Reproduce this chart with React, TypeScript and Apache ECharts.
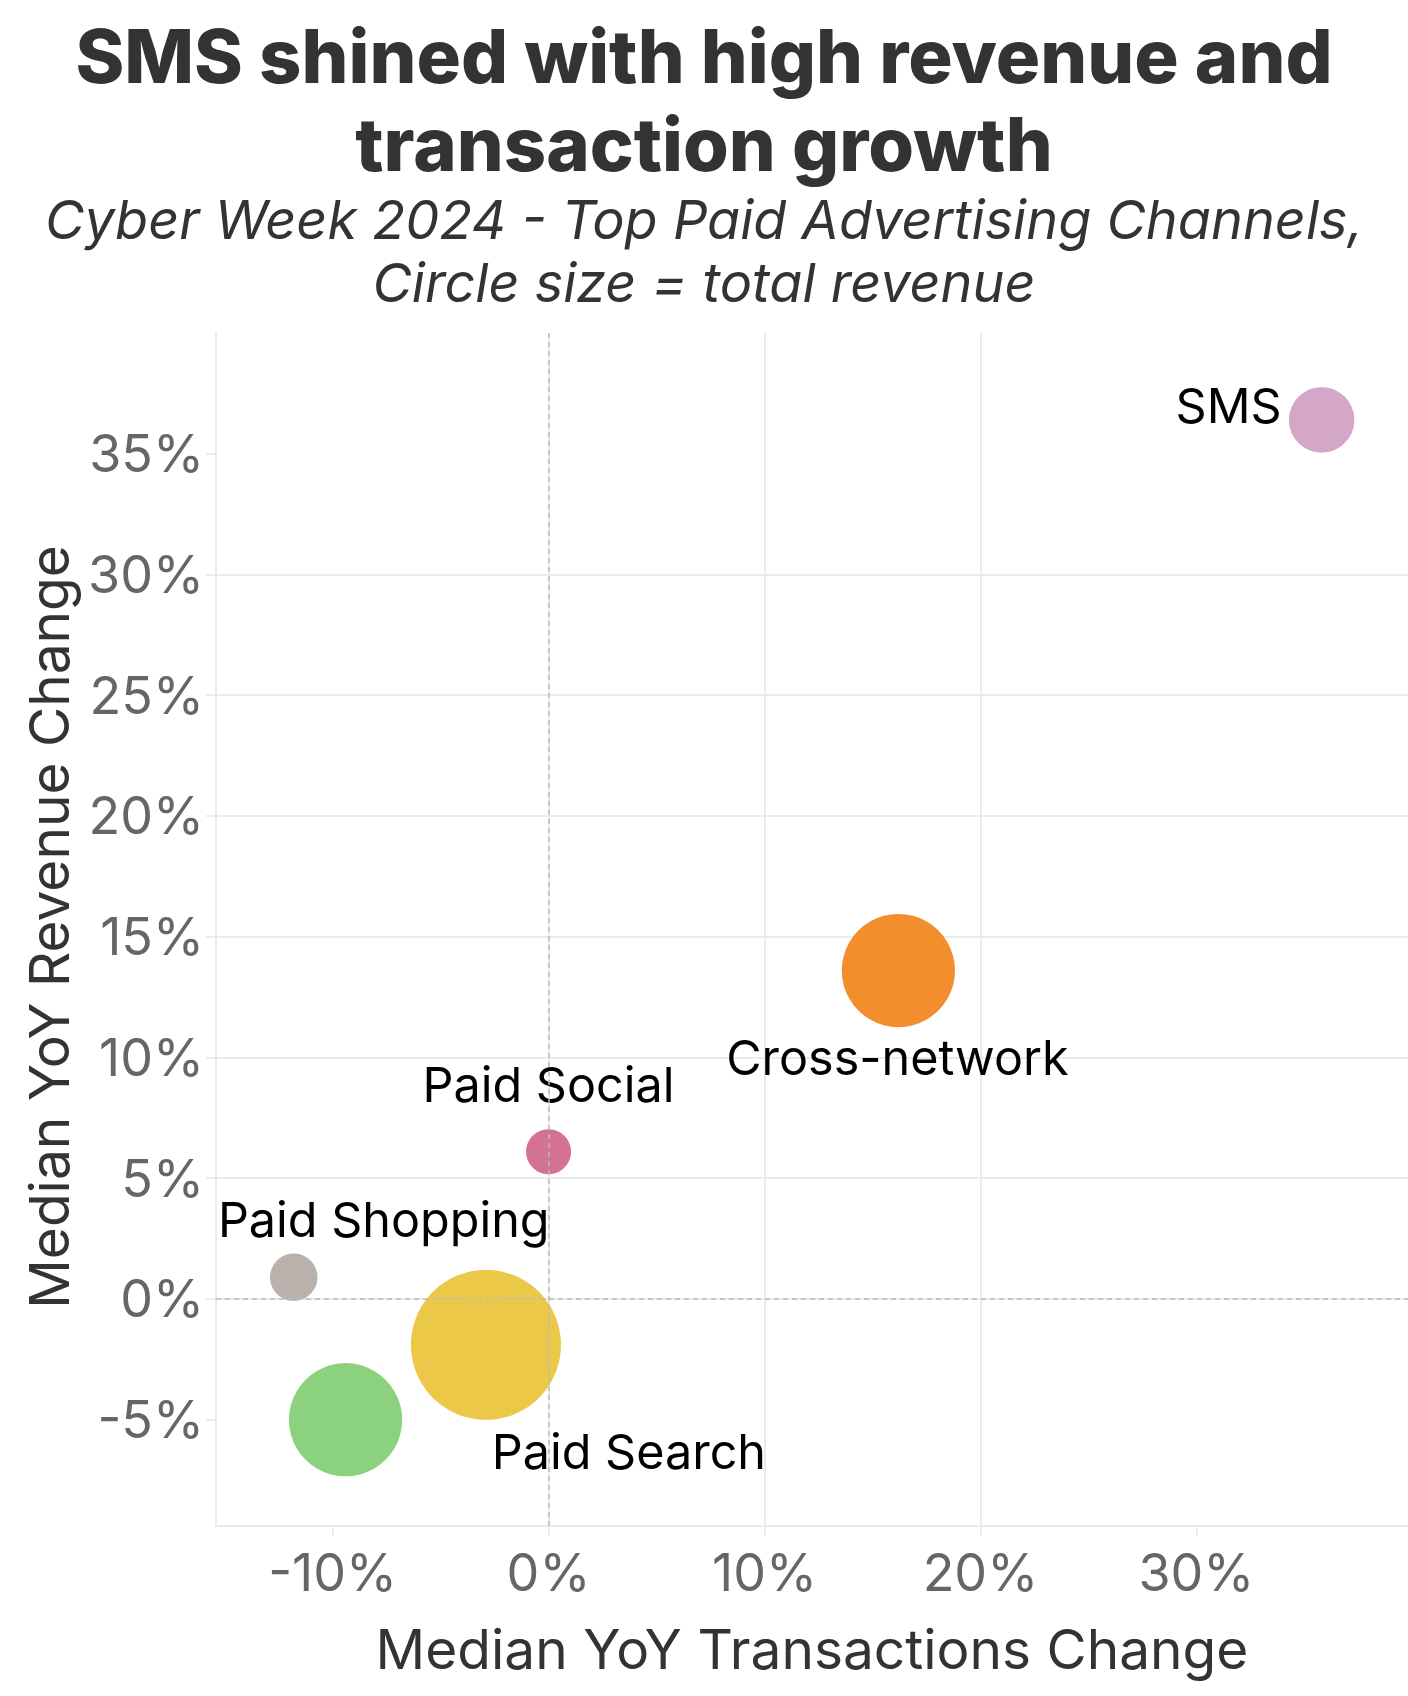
import React, { useEffect, useRef } from "react";
import * as echarts from "echarts";

// ---- data ----
const channels = ["SMS", "Cross-network", "Paid Social", "Paid Shopping", "Paid Search", "Unlabeled channel"];
const txChange = [35.8, 16.2, 0.0, -11.8, -2.9, -9.4]; // Median YoY Transactions Change (%)
const revChange = [36.4, 13.6, 6.1, 0.9, -1.9, -5.0]; // Median YoY Revenue Change (%)
const totalRevenue = [19, 57, 9, 10, 100, 57]; // relative total revenue (circle area)
const showLabel = [true, true, true, true, true, false];
const xTickValues = [-10, 0, 10, 20, 30];
const yTickValues = [-5, 0, 5, 10, 15, 20, 25, 30, 35];

const titleLines = ["SMS shined with high revenue and", "transaction growth"];
const subtitleLines = ["Cyber Week 2024 - Top Paid Advertising Channels,", "Circle size = total revenue"];
const xAxisTitle = "Median YoY Transactions Change";
const yAxisTitle = "Median YoY Revenue Change";

// ---- styles ----
const COLORS: Record<string, string> = {
  "SMS": "#D4A6C8",
  "Cross-network": "#F28E2B",
  "Paid Social": "#D37295",
  "Paid Shopping": "#BAB0AC",
  "Paid Search": "#EBC847",
  "Unlabeled channel": "#8CD17D",
};
const LABEL_STYLE: Record<string, { offset: number[]; align: string }> = {
  "SMS": { offset: [-40, -14], align: "right" },
  "Cross-network": { offset: [-1, 87], align: "center" },
  "Paid Social": { offset: [0, -67], align: "center" },
  "Paid Shopping": { offset: [90, -58], align: "center" },
  "Paid Search": { offset: [143, 107], align: "center" },
  "Unlabeled channel": { offset: [0, 0], align: "center" },
};
const FONT = "Inter";
const GRID_COLOR = "#EBEBEB";

export default function App() {
  const ref = useRef<HTMLDivElement>(null);
  useEffect(() => {
    document.body.style.margin = "0";
    if (!ref.current) return;
    const chart = echarts.init(ref.current, null, { renderer: "svg" });
    const maxRev = Math.max(...totalRevenue);
    const data = channels.map((name, i) => ({
      name,
      value: [txChange[i], revChange[i]],
      symbolSize: 150 * Math.sqrt(totalRevenue[i] / maxRev),
      itemStyle: { color: COLORS[name], opacity: 1 },
      label: {
        show: showLabel[i],
        position: "inside",
        formatter: "{b}",
        offset: LABEL_STYLE[name].offset,
        align: LABEL_STYLE[name].align,
        verticalAlign: "middle",
        color: "#000000",
        fontFamily: FONT,
        fontSize: 48.5,
      },
    }));
    const option: any = {
      animation: false,
      backgroundColor: "#ffffff",
      grid: { left: 216, top: 333, right: 0, bottom: 170, containLabel: false },
      xAxis: {
        type: "value",
        min: -15.4,
        max: 39.8,
        splitNumber: 5,
        axisLine: { show: true, onZero: false, lineStyle: { color: GRID_COLOR, width: 2 } },
        axisTick: { show: true, length: 9, customValues: xTickValues, lineStyle: { color: GRID_COLOR, width: 2 } },
        axisLabel: {
          customValues: xTickValues,
          formatter: (v: number) => `${v}%`,
          fontFamily: FONT,
          fontSize: 52,
          color: "#666666",
          margin: 20,
        },
        splitLine: { show: true, showMinLine: false, showMaxLine: false, lineStyle: { color: GRID_COLOR, width: 2 } },
      },
      yAxis: {
        type: "value",
        min: -9.4,
        max: 40,
        splitNumber: 10,
        axisLine: { show: true, onZero: false, lineStyle: { color: GRID_COLOR, width: 2 } },
        axisTick: { show: true, length: 10, customValues: yTickValues, lineStyle: { color: GRID_COLOR, width: 2 } },
        axisLabel: {
          customValues: yTickValues,
          formatter: (v: number) => `${v}%`,
          fontFamily: FONT,
          fontSize: 52,
          color: "#666666",
          margin: 12,
        },
        splitLine: { show: true, showMinLine: false, showMaxLine: false, lineStyle: { color: GRID_COLOR, width: 2 } },
      },
      graphic: [
        ...titleLines.map((t, i) => ({
          type: "text",
          x: 704,
          y: 56 + i * 88,
          style: { text: t, fill: "#333333", font: `800 74px ${FONT}`, align: "center", verticalAlign: "middle" },
        })),
        ...subtitleLines.map((t, i) => ({
          type: "text",
          x: 704,
          y: 219 + i * 63,
          style: { text: t, fill: "#333333", font: `italic 400 54px ${FONT}`, align: "center", verticalAlign: "middle" },
        })),
        {
          type: "text",
          x: 812,
          y: 1649,
          style: { text: xAxisTitle, fill: "#333333", font: `400 55px ${FONT}`, align: "center", verticalAlign: "middle" },
        },
        {
          type: "text",
          x: 49,
          y: 927,
          rotation: Math.PI / 2,
          style: { text: yAxisTitle, fill: "#333333", font: `400 55px ${FONT}`, align: "center", verticalAlign: "middle" },
        },
      ],
      series: [
        {
          type: "scatter",
          z: 1,
          data: [],
          markLine: {
            silent: true,
            symbol: "none",
            label: { show: false },
            lineStyle: { type: [5, 4], color: "#BBBBBB", width: 1.5 },
            data: [{ xAxis: 0 }, { yAxis: 0 }],
          },
        },
        {
          type: "scatter",
          z: 3,
          data,
        },
      ],
    };
    chart.setOption(option);
    return () => chart.dispose();
  }, []);
  return <div ref={ref} style={{ width: 1408, height: 1696 }} />;
}
